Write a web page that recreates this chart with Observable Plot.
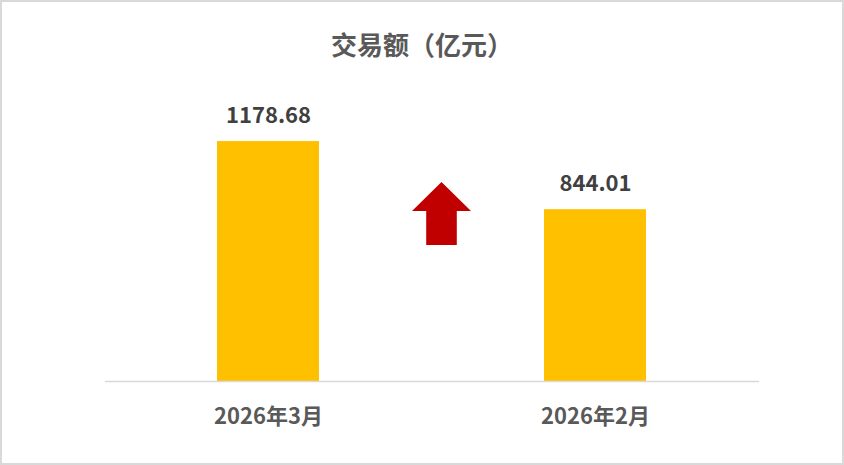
<!DOCTYPE html>
<html><head><meta charset="utf-8">
<script src="https://cdn.jsdelivr.net/npm/d3@7"></script>
<script src="https://cdn.jsdelivr.net/npm/@observablehq/plot@0.6"></script>
<style>
html,body{margin:0;padding:0;background:#fff;}
#wrap{width:844px;height:465px;box-sizing:border-box;border:2px solid #D9D9D9;background:#fff;overflow:hidden;}
#title{height:84px;line-height:84px;text-align:center;font-family:"Noto Sans CJK SC",sans-serif;font-weight:bold;font-size:26px;color:#595959;}
</style></head>
<body>
<div id="wrap"><div id="title">交易额（亿元）</div><div id="chart"></div></div>
<script>
const categories = ["2026年3月", "2026年2月"];
const values = [1178.68, 844.01];
const valueLabels = ["1178.68", "844.01"];
const data = categories.map((c, i) => ({cat: c, v: values[i], label: valueLabels[i]}));

const font = "'Noto Sans CJK SC', 'Noto Sans', sans-serif";

function upArrow(index, scales, channels, dims) {
  const cx = (scales.x(categories[0]) + scales.x(categories[1]) + scales.x.bandwidth()) / 2 + 10;
  const tipY = 96, headY = 125, botY = 159, headHW = 29.5, shaftHW = 15.3;
  const d = `M${cx},${tipY}L${cx + headHW},${headY}L${cx + shaftHW},${headY}L${cx + shaftHW},${botY}L${cx - shaftHW},${botY}L${cx - shaftHW},${headY}L${cx - headHW},${headY}Z`;
  const g = d3.create("svg:g");
  g.append("path").attr("d", d).attr("fill", "#C00000");
  return g.node();
}

const chart = Plot.plot({
  width: 840,
  height: 377,
  marginLeft: 103,
  marginRight: 83,
  marginTop: 10,
  marginBottom: 82,
  style: {fontFamily: font, background: "#fff", overflow: "visible"},
  x: {domain: categories, paddingInner: 0.688, paddingOuter: 0.344, label: null},
  y: {domain: [0, 1400], axis: null},
  marks: [
    Plot.barY(data, {x: "cat", y: "v", fill: "#FFC000"}),
    Plot.ruleY([0], {stroke: "#D9D9D9", strokeWidth: 1.5}),
    Plot.text(data, {x: "cat", y: "v", text: "label", lineAnchor: "bottom", dy: -19, fontSize: 22, fontWeight: "bold", fill: "#404040"}),
    Plot.axisX({tickSize: 0, tickPadding: 27, fontSize: 22, fontWeight: "bold", fill: "#595959", label: null}),
    upArrow
  ]
});
document.getElementById("chart").appendChild(chart);
</script>
</body></html>
